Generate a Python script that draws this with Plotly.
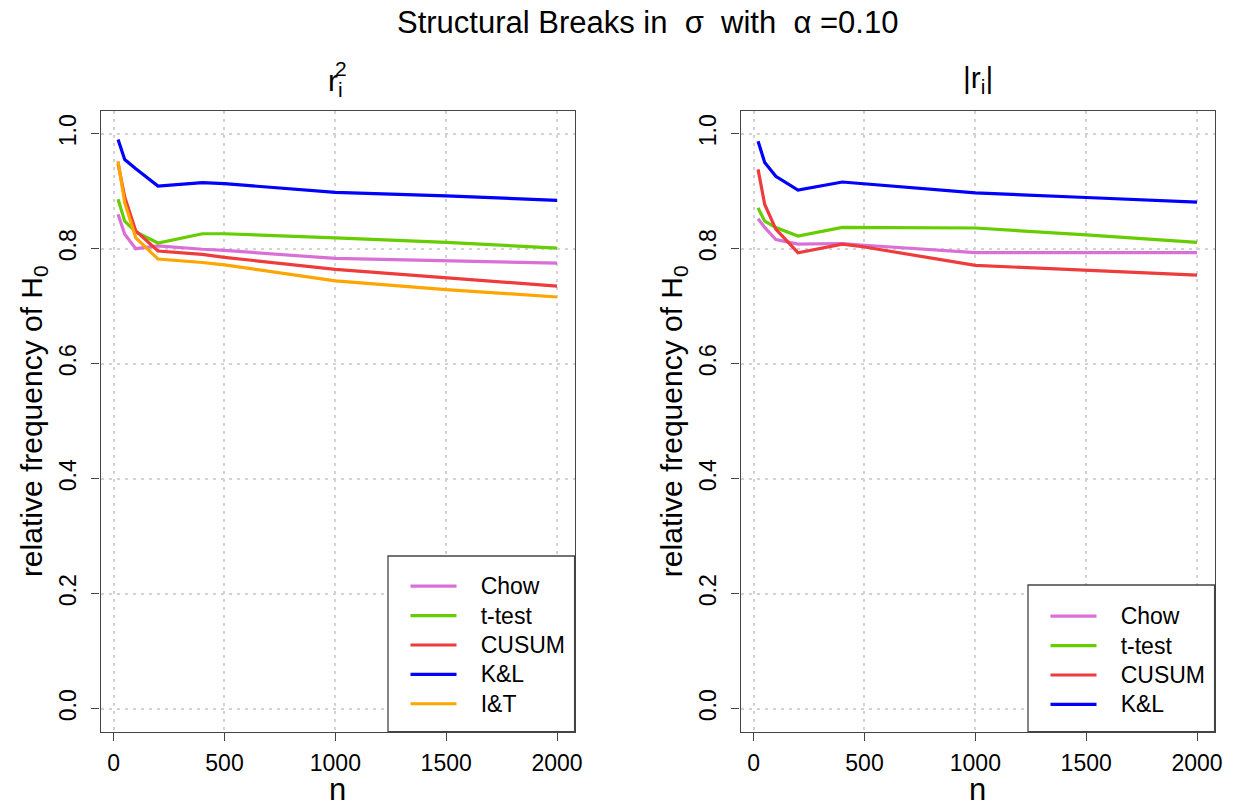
import plotly.graph_objects as go

# ---------------- data ----------------
n = [20, 50, 100, 200, 400, 500, 1000, 1500, 2000]

methods_sq = ["Chow", "t-test", "CUSUM", "K&L", "I&T"]
chow_sq = [0.860, 0.825, 0.800, 0.805, 0.799, 0.797, 0.783, 0.779, 0.775]
ttest_sq = [0.886, 0.848, 0.829, 0.810, 0.826, 0.826, 0.819, 0.811, 0.801]
cusum_sq = [0.948, 0.890, 0.831, 0.796, 0.790, 0.785, 0.764, 0.750, 0.735]
kl_sq = [0.990, 0.955, 0.939, 0.909, 0.915, 0.913, 0.898, 0.892, 0.884]
it_sq = [0.952, 0.880, 0.819, 0.782, 0.776, 0.772, 0.744, 0.729, 0.716]

methods_abs = ["Chow", "t-test", "CUSUM", "K&L"]
chow_abs = [0.852, 0.837, 0.816, 0.808, 0.809, 0.806, 0.793, 0.793, 0.793]
ttest_abs = [0.871, 0.848, 0.837, 0.822, 0.837, 0.837, 0.836, 0.824, 0.811]
cusum_abs = [0.938, 0.877, 0.834, 0.793, 0.808, 0.803, 0.771, 0.762, 0.754]
kl_abs = [0.987, 0.950, 0.926, 0.902, 0.916, 0.913, 0.897, 0.889, 0.881]

x_ticks = [0, 500, 1000, 1500, 2000]
y_ticks = [0.0, 0.2, 0.4, 0.6, 0.8, 1.0]

colors = {"Chow": "#DA70D6", "t-test": "#66CD00", "CUSUM": "#EE3B3B",
          "K&L": "#0000FF", "I&T": "#FFA500"}

# ---------------- layout geometry ----------------
W, H = 1240, 807
FONT = "Liberation Sans, Arial, sans-serif"


def px_x(p):
    return p / W


def px_y(p):
    return 1 - p / H


def legend_label(name):
    return "<span style='font-size:23px'>\u00a0\u00a0\u00a0" + name + "</span>"


left_dom = [px_x(100.5), px_x(574.6)]
right_dom = [px_x(740.5), px_x(1214.6)]
y_dom = [px_y(731.7), px_y(110.7)]

fig = go.Figure()

left_vals = [chow_sq, ttest_sq, cusum_sq, kl_sq, it_sq]
for name, vals in zip(methods_sq, left_vals):
    fig.add_trace(go.Scatter(x=n, y=vals, mode="lines", name=legend_label(name),
                             line=dict(color=colors[name], width=3.2),
                             xaxis="x", yaxis="y", legend="legend",
                             legendgroup="L" + name))

right_vals = [chow_abs, ttest_abs, cusum_abs, kl_abs]
for name, vals in zip(methods_abs, right_vals):
    fig.add_trace(go.Scatter(x=n, y=vals, mode="lines", name=legend_label(name),
                             line=dict(color=colors[name], width=3.2),
                             xaxis="x2", yaxis="y2", legend="legend2",
                             legendgroup="R" + name))

axis_common = dict(showline=True, mirror=True, linecolor="#444444", linewidth=1.3,
                   ticks="outside", ticklen=8, tickcolor="#444444", tickwidth=1.3,
                   showgrid=True, gridcolor="#D3D3D3", gridwidth=1.6, griddash="3px,5px",
                   zeroline=False, automargin=False,
                   tickfont=dict(family=FONT, size=23, color="#000000"))

xax = dict(axis_common, range=[-59.2, 2079.2], tickvals=x_ticks, ticklabelstandoff=3,
           title=dict(text="n", font=dict(family=FONT, size=31, color="#000"), standoff=15))
yax = dict(axis_common, range=[-0.04, 1.04], tickvals=y_ticks, tickformat=".1f",
           tickangle=-90, ticklabelstandoff=6,
           title=dict(text="relative frequency of H<sub>0</sub>",
                      font=dict(family=FONT, size=30, color="#000"), standoff=3))

legend_common = dict(bgcolor="rgba(0,0,0,0)", borderwidth=0,
                     font=dict(family=FONT, size=20.3, color="#000"),
                     itemwidth=46, tracegroupgap=0, xanchor="left", yanchor="top")

fig.update_layout(
    width=W, height=H,
    margin=dict(l=0, r=0, t=0, b=0, autoexpand=False),
    paper_bgcolor="white", plot_bgcolor="white",
    showlegend=True,
    xaxis=dict(xax, domain=left_dom, anchor="y"),
    yaxis=dict(yax, domain=y_dom, anchor="x"),
    xaxis2=dict(xax, domain=right_dom, anchor="y2"),
    yaxis2=dict(yax, domain=y_dom, anchor="x2"),
    legend=dict(legend_common, x=px_x(405.5), y=px_y(566.5)),
    legend2=dict(legend_common, x=px_x(1045.5), y=px_y(596.5)),
    shapes=[
        dict(type="rect", xref="paper", yref="paper",
             x0=px_x(388), x1=left_dom[1], y0=y_dom[0], y1=px_y(556),
             line=dict(color="#444444", width=1.3), fillcolor="white", layer="above"),
        dict(type="rect", xref="paper", yref="paper",
             x0=px_x(1028), x1=right_dom[1], y0=y_dom[0], y1=px_y(585),
             line=dict(color="#444444", width=1.3), fillcolor="white", layer="above"),
    ],
    annotations=[
        dict(text="Structural Breaks in \u00a0\u03c3\u00a0 with \u00a0\u03b1 =0.10",
             xref="paper", yref="paper", x=px_x(647), y=px_y(22),
             xanchor="center", yanchor="middle", showarrow=False,
             font=dict(family=FONT, size=31, color="#000")),
        dict(text="r<sub>i</sub>", xref="paper", yref="paper",
             x=px_x(335.5), y=px_y(83), xanchor="center", yanchor="middle",
             showarrow=False, font=dict(family=FONT, size=30, color="#000")),
        dict(text="2", xref="paper", yref="paper",
             x=px_x(340.5), y=px_y(69), xanchor="center", yanchor="middle",
             showarrow=False, font=dict(family=FONT, size=21, color="#000")),
        dict(text="|r<sub>i</sub>|", xref="paper", yref="paper",
             x=px_x(977.5), y=px_y(80), xanchor="center", yanchor="middle",
             showarrow=False, font=dict(family=FONT, size=30, color="#000")),
    ],
)

fig.write_html("out.html")
